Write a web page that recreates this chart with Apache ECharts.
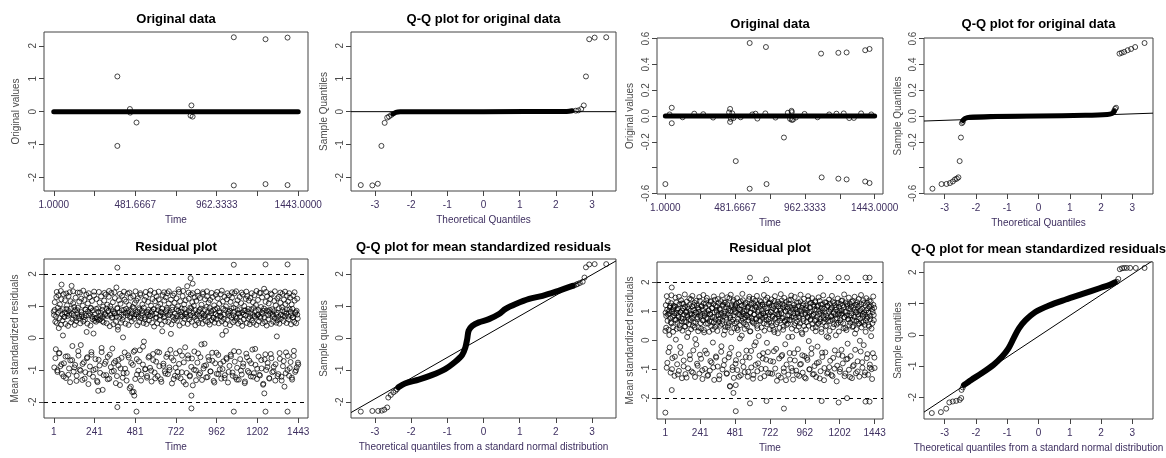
<!DOCTYPE html>
<html><head><meta charset="utf-8">
<script src="https://cdn.jsdelivr.net/npm/echarts@6/dist/echarts.min.js"></script>
<style>html,body{margin:0;padding:0;background:#fff}#c{width:1166px;height:458px}</style>
</head><body><div id="c"></div>
<script>
// ---------- tick values / labels ----------
const timeTicksTop = [1, 241.3333, 481.6667, 722, 962.3333, 1202.6667, 1443];
const timeLabelsTop = [1, 481.6667, 962.3333, 1443];
const timeTicksBottom = [1, 241, 481, 722, 962, 1202, 1443];
const qqTicks = [-3, -2, -1, 0, 1, 2, 3];
const yTicksWide = [-2, -1, 0, 1, 2];
const yTicksNarrow = [-0.6, -0.4, -0.2, 0, 0.2, 0.4, 0.6];
const yLabelsNarrow = [-0.6, -0.2, 0, 0.2, 0.4, 0.6];
const titles = ["Original data", "Q-Q plot for original data", "Original data", "Q-Q plot for original data",
  "Residual plot", "Q-Q plot for mean standardized residuals", "Residual plot", "Q-Q plot for mean standardized residuals"];

// ---------- panel 1: original data (set A) ----------
const origA_bulk = [[1, 0], [1443, 0]];
const origA_points = [[376, 1.07], [376, -1.04], [450, 0.08], [452, -0.03], [489, -0.33], [813, 0.19], [808, -0.12],
  [820, -0.15], [1063, 2.26], [1063, -2.24], [1250, 2.2], [1250, -2.2], [1380, 2.25], [1380, -2.23]];
// ---------- panel 2: QQ original (set A) ----------
const qqA_line = [[-3.66, 0], [3.66, 0]];
const qqA_bulk = [[-2.5, -0.07], [-2.42, -0.02], [-2.3, -0.005], [0, 0], [2.3, 0.008], [2.45, 0.03]];
const qqA_points = [[-3.39, -2.23], [-3.07, -2.24], [-2.92, -2.19], [-2.82, -1.04], [-2.73, -0.34], [-2.66, -0.18],
  [-2.61, -0.15], [-2.55, -0.1], [2.55, 0.03], [2.62, 0.04], [2.7, 0.08], [2.77, 0.19], [2.83, 1.07], [2.92, 2.2],
  [3.07, 2.25], [3.39, 2.26]];
// ---------- panel 3: original data (set B) ----------
const origB_bulk = [[1, 0], [1443, 0]];
const origB_nearZero = [[30, 0.012], [120, -0.01], [200, 0.018], [262, 0.014], [330, -0.012], [440, 0.028], [452, -0.022],
  [462, 0.02], [470, -0.016], [520, -0.01], [600, 0.012], [622, 0.018], [635, -0.02], [690, 0.02], [760, -0.012],
  [845, 0.025], [860, -0.022], [872, 0.03], [880, -0.028], [900, -0.012], [960, 0.016], [1050, -0.01], [1130, 0.012],
  [1180, 0.018], [1230, 0.02], [1268, -0.016], [1300, -0.015], [1350, 0.02], [1420, 0.012]];
const origB_points = [[1, -0.528], [45, 0.064], [45, -0.056], [447, 0.055], [447, -0.046], [486, -0.35], [582, 0.566],
  [582, -0.564], [694, 0.535], [698, -0.528], [818, -0.167], [870, 0.04], [872, -0.03], [1074, 0.484], [1078, -0.476],
  [1193, 0.49], [1193, -0.486], [1250, 0.493], [1250, -0.492], [1378, 0.51], [1378, -0.508], [1408, 0.52], [1408, -0.52]];
// ---------- panel 4: QQ original (set B) ----------
const qqB_line = [[-3.66, -0.039], [3.66, 0.022]];
const qqB_bulk = [[-2.42, -0.035], [-2.35, -0.02], [-2.2, -0.01], [-1.5, -0.004], [0, 0], [1.5, 0.005], [2.2, 0.012],
  [2.35, 0.02], [2.42, 0.035]];
const qqB_points = [[-3.39, -0.564], [-3.1, -0.528], [-2.94, -0.527], [-2.83, -0.52], [-2.74, -0.508], [-2.67, -0.492],
  [-2.61, -0.486], [-2.56, -0.476], [-2.52, -0.35], [-2.48, -0.167], [-2.45, -0.056], [-2.42, -0.046], [2.42, 0.04],
  [2.45, 0.055], [2.48, 0.064], [2.59, 0.484], [2.66, 0.49], [2.74, 0.497], [2.85, 0.51], [2.96, 0.52], [3.09, 0.535],
  [3.39, 0.566]];

// ---------- panel 5: residuals (set A), observations sampled evenly over time 1..1443 ----------
const residA = [
 0.83,-0.92,1.12,0.51,-0.35,1.28,0.47,-1.01,0.95,1.34,-0.48,0.62,1.05,-0.88,0.42,1.21,-1.12,0.55,0.08,1.37,
 -0.79,0.66,1.18,0.44,-1.25,0.91,1.02,-0.57,0.38,1.31,-0.95,0.73,-1.38,1.15,0.49,1.63,-0.69,0.58,1.09,-1.05,
 0.97,0.41,-0.84,1.26,0.53,-1.18,0.87,1.42,-0.41,0.61,1.14,-0.99,0.46,-0.22,1.23,0.68,-1.31,1.01,0.52,-0.76,
 1.19,0.57,-1.07,0.89,1.35,-0.63,0.45,1.08,-1.44,0.71,1.27,-0.89,0.39,0.94,-0.52,1.16,0.59,-1.21,0.14,1.33,
 0.54,0.62,-0.97,0.51,1.22,-1.34,0.58,0.93,-0.68,0.56,1.11,-1.09,0.6,1.3,-0.44,0.53,-1.62,0.98,0.49,1.17,
 -0.81,0.72,1.36,-1.16,0.46,1.04,-0.59,0.84,1.29,-1.27,0.37,0.99,-0.91,1.41,0.63,-0.33,1.12,0.43,-1.03,0.77,
 1.25,-0.72,0.51,1.58,-1.19,0.92,0.35,-0.86,1.18,0.66,-1.47,1.07,0.48,-0.62,1.32,0.57,0.02,-1.1,0.88,1.2,
 -0.96,0.45,1.14,-1.33,0.79,1.39,-0.54,0.41,1.03,-1.57,0.68,1.26,-0.78,0.52,-1.69,0.97,1.31,-0.43,0.6,1.09,
 -1.28,0.74,1.17,-0.66,0.4,1.24,-1.02,0.93,0.5,-0.38,1.35,0.62,-1.14,0.86,1.05,-0.83,0.47,-0.11,1.19,0.58,
 -0.97,1.29,0.44,-1.24,0.82,1.13,-0.61,0.55,1.37,-0.93,0.69,1.01,-1.36,0.48,1.22,-0.5,0.9,0.36,-1.08,1.15,
 0.63,-0.74,1.3,0.46,-1.19,0.98,1.21,-0.45,0.57,1.06,-1.29,0.81,0.42,0.21,1.34,-0.87,0.65,1.17,-1.04,0.52,
 1.27,-0.59,0.89,1.4,-1.13,0.5,1.08,-0.92,0.73,-0.37,1.2,0.43,-1.42,0.96,1.33,-0.7,0.56,1.1,-1.18,0.61,
 -0.48,1.24,0.54,-1.06,0.99,1.52,-0.81,0.39,1.15,-1.26,0.67,0.92,-0.55,1.31,0.47,-1.37,1.05,0.6,-0.29,1.18,
 0.75,-1.09,1.62,0.44,-0.64,1.23,0.58,-1.2,0.95,1.36,-0.9,0.51,1.12,-1.48,0.7,1.01,-0.42,1.27,0.4,-1.01,
 1.16,0.55,-0.77,1.32,0.47,-1.15,0.88,1.25,-0.6,0.62,1.04,-1.31,0.45,1.38,-0.95,0.71,-0.18,1.21,0.53,-0.85,
 0.97,1.3,-1.22,0.5,1.11,-0.69,0.42,1.19,-1.05,0.84,0.56,-0.46,1.28,0.64,-1.34,1.02,0.48,-0.79,1.35,0.59,
 -1.12,0.93,1.24,-0.53,0.46,1.07,-0.98,0.69,1.37,-1.27,0.52,0.1,1.14,-0.73,0.6,1.29,-1.16,0.44,0.99,-0.62,
 1.21,0.57,-1.39,0.82,1.33,-0.87,0.4,1.13,-0.57,0.65,1.26,-1.08,0.49,0.94,-0.41,1.4,0.54,-1.23,1.06,0.62,
 -0.93,1.18,0.45,-1.3,0.77,1.28,-0.66,0.51,1.09,-1.14,0.38,1.36,-0.8,0.58,1.0,-1.41,0.86,1.22,-0.49,0.47,
 1.31,-1.03,0.6,1.17,-0.71,0.43,1.25,-1.2,0.9,0.55,-0.36,1.12,0.48,-1.1,1.34,0.66,-0.84,1.03,0.41,-1.28,
 0.71,1.19,-0.58,0.52,1.41,-1.17,0.63,0.97,-0.95,1.27,0.46,-1.46,0.85,1.54,-0.67,0.5,1.13,-1.0,0.39,1.3,
 -0.78,0.59,1.08,-1.25,0.88,1.22,-0.5,0.44,1.36,-1.07,0.73,0.51,-0.9,1.16,0.62,-1.33,1.02,0.48,0.05,1.24,
 0.56,-1.13,1.29,0.45,-0.65,1.1,0.6,-1.21,0.96,1.38,-0.88,0.53,1.2,-1.52,0.69,1.06,-0.45,0.47,1.32,-1.0,
 1.14,0.58,-1.18,0.9,1.26,-0.75,0.43,1.05,-1.3,0.64,1.33,-0.56,0.5,1.17,-1.06,0.81,0.46,-0.92,1.23,0.61,
 -0.83];
// further observations of set A (interleaved in time)
const residA2 = [
 0.72,0.88,-0.63,0.67,1.44,-1.06,0.79,0.31,-0.47,0.85,1.47,-0.82,0.74,0.9,-1.2,0.66,0.8,-0.58,1.39,0.77,
 0.69,-1.15,0.84,1.43,-0.7,0.92,0.76,-0.25,1.46,0.71,-0.92,0.87,0.63,-1.34,0.78,0.95,-0.55,0.68,1.42,-1.02,
 0.81,0.73,-0.81,1.48,0.65,-1.27,0.89,0.7,0.19,-0.6,0.83,1.4,-1.12,0.76,0.93,-0.44,0.67,0.86,-1.0,1.45,
 0.74,-0.66,0.91,0.64,-1.38,0.82,1.44,-0.86,0.7,0.79,-0.31,0.88,0.66,-1.16,1.41,0.75,-0.74,0.92,0.69,-1.29,
 0.85,1.47,-0.52,0.72,0.9,-1.05,0.65,0.83,-0.78,1.43,0.77,-1.41,0.68,0.94,0.26,-0.68,0.8,1.38,-0.95,0.73,
 0.87,-1.24,0.66,1.45,-0.45,0.79,0.91,-1.09,0.71,0.84,-0.61,1.42,0.64,-1.52,0.86,0.76,-0.84,0.93,0.69,-0.39,
 1.46,0.74,-1.14,0.82,0.67,-0.73,0.89,1.4,-1.33,0.7,0.78,-0.27,0.95,0.65,-0.98,1.44,0.8,-1.19,0.73,0.88,
 -0.57,0.68,1.48,-1.02,0.83,0.72,-0.69,0.9,1.41,-1.26,0.76,0.64,-0.43,0.87,1.45,-0.88,0.7,0.81,-1.37,0.92,
 0.75,-0.8,1.43,0.67,-1.11,0.84,0.94,-0.5,0.71,1.46,-1.0,0.79,0.13,-0.62,0.88,0.66,-1.28,1.39,0.77,-0.93,
 0.9,0.69,-1.21,0.85,1.44,-0.41,0.73,0.82,-1.07,0.68,1.47,-0.76,0.91,0.75,-1.45,0.8,0.67,-0.54,1.42,0.86,
 -1.17,0.71,0.93,-0.64,1.4,0.78,-0.99,0.66,0.87,-1.32,0.74,1.45,-0.48,0.83,0.69,-1.1,0.92,-0.2,0.76,1.43,
 0.65,-0.87,0.89,0.72,-1.23,1.46,0.8,-0.59,0.68,0.94,-1.04,0.77,1.41,-0.71,0.86,0.63,-1.39,0.9,0.74,-0.46,
 1.44,0.7,-1.13,0.84,0.79,-0.8,0.67,1.48,-0.97,0.92,0.73,-1.25,0.88,0.22,-0.66,1.4,0.76,-1.06,0.69,0.85,
 -0.52,0.93,1.43,-1.18,0.71,0.82,-0.74,0.65,1.46,-1.3,0.87,0.77,-0.43,0.9,0.68,-1.02,1.42,0.8,-0.89,0.74,
 0.86,-1.36,0.7,1.45,-0.6,0.83,0.91,-1.08,0.66,0.78,-0.79,1.4,0.72,-1.21,0.94,0.69,-0.34,0.85,1.47,-0.96,
 0.73,0.88,-1.15,0.67,1.41,-0.69,0.8,0.75,-1.43,0.92,0.64,-0.51,1.44,0.86,-0.91,0.71,0.83,-1.27,0.77,1.39,
 -0.63,0.9,0.68,-1.04,0.84,1.46,-0.82,0.74,0.79,-1.19,0.66,0.93,-0.47,1.42,0.72,-1.33,0.87,0.7,-0.72,0.81,
 1.45,-1.1,0.76,0.89,-0.56,0.67,1.4,-0.94,0.82,0.71,-1.24,0.91,0.65,-0.4,1.43,0.78,-1.01,0.85,0.73,-0.77];
const residA_extra = [[47, 1.67], [263, -1.65], [376, 2.2], [376, -2.16], [472, -1.68], [476, -1.8], [489, -2.3],
  [808, 1.87], [820, 1.7], [813, -1.8], [813, -2.2], [1063, 2.29], [1063, -2.3], [1243, -1.73], [1250, 2.3],
  [1250, -2.3], [1380, 2.3], [1380, -2.3]];
// ---------- panel 6: QQ residuals (set A) ----------
const qqRA_line = [[-3.66, -2.33], [3.66, 2.41]];
const qqRA_bulk = [[-2.35, -1.54], [-2.17, -1.42], [-1.79, -1.3], [-1.43, -1.16], [-1.06, -0.97], [-0.78, -0.74],
  [-0.59, -0.53], [-0.5, -0.29], [-0.45, -0.03], [-0.41, 0.23], [-0.31, 0.38], [-0.13, 0.49], [0.15, 0.59],
  [0.43, 0.75], [0.61, 0.91], [0.89, 1.06], [1.26, 1.22], [1.63, 1.32], [2.0, 1.45], [2.28, 1.56], [2.46, 1.63]];
const qqRA_points = [[-3.39, -2.3], [-3.07, -2.28], [-2.91, -2.28], [-2.81, -2.27], [-2.74, -2.24], [-2.66, -2.17],
  [-2.63, -1.86], [-2.56, -1.78], [-2.49, -1.7], [-2.43, -1.65], [-2.39, -1.6], [2.5, 1.64], [2.56, 1.67], [2.6, 1.69],
  [2.66, 1.72], [2.74, 1.76], [2.79, 1.89], [2.83, 2.21], [2.92, 2.3], [3.07, 2.31], [3.39, 2.31]];

// ---------- panel 7: residuals (set B) ----------
const residB = [
 0.32,1.21,0.84,-0.95,1.05,0.67,1.34,-0.41,0.92,0.18,1.13,0.76,-1.12,1.28,0.58,0.99,-0.62,1.07,0.45,1.19,
 0.86,-1.23,1.16,0.71,0.02,1.31,0.94,-0.83,0.6,1.1,0.79,-1.06,1.24,0.52,-0.23,0.97,1.38,0.65,-1.31,1.02,
 0.74,1.26,-0.7,0.88,0.47,1.15,-1.17,0.96,0.63,1.33,0.11,0.81,-0.97,1.09,0.55,1.22,-0.52,0.9,0.69,1.41,
 -1.08,0.78,1.17,0.5,-0.35,1.03,0.87,1.29,-1.27,0.62,0.95,-0.15,1.2,0.73,-0.88,1.12,0.44,0.98,-1.15,1.36,
 0.82,0.59,-0.64,1.18,0.91,-1.34,1.06,0.68,1.27,0.27,0.85,-0.99,1.14,0.57,1.37,-0.46,0.93,0.76,-1.2,1.01,
 1.23,0.66,-1.05,0.89,1.32,0.48,-0.77,1.11,0.8,-0.08,1.25,0.61,-1.37,0.96,1.4,0.72,-0.56,1.04,0.53,1.17,
 -0.91,0.87,1.28,0.63,-1.22,1.08,0.75,1.35,-0.4,0.94,0.56,-1.01,1.19,0.83,0.19,1.3,-0.69,0.99,0.46,1.13,
 0.7,-1.14,1.24,0.9,0.51,-0.59,1.1,1.45,-1.58,0.78,1.02,-0.26,1.21,0.64,-0.93,1.34,0.86,-1.3,1.07,0.58,
 1.16,-0.81,0.95,1.26,0.42,-1.03,1.12,0.73,-0.49,1.31,0.88,0.06,1.05,-1.21,0.67,1.2,0.97,-0.74,1.38,0.6,
 0.91,1.18,-1.1,0.79,1.29,0.54,-0.36,1.03,0.84,-1.26,1.15,0.69,1.42,-0.6,0.95,0.31,1.22,-0.94,0.76,1.09,
 0.62,-1.33,1.27,0.88,-0.18,1.06,1.36,-0.85,0.72,1.14,0.5,-1.07,0.98,1.25,0.14,0.83,-0.53,1.19,0.66,1.32,
 -0.99,1.01,0.77,1.23,-0.45,0.92,0.58,-1.24,1.16,0.85,1.39,-0.67,0.7,-0.09,1.11,0.96,-1.13,1.28,0.63,0.89,
 1.3,-0.72,0.97,0.6,1.2,-1.16,0.81,1.1,0.36,-0.38,1.35,0.74,-0.98,1.04,0.55,1.24,-1.4,0.9,0.24,1.17,
 0.82,-0.63,1.27,0.68,1.02,-1.29,0.93,1.37,-0.51,0.77,1.13,0.47,-1.09,1.21,0.64,-0.14,0.99,1.32,-0.84,0.71,
 1.08,0.57,-1.19,1.26,0.86,-0.44,1.15,0.69,1.4,-0.96,0.8,0.12,1.05,-1.36,0.92,1.22,0.52,-0.7,1.11,0.78,
 -1.05,1.3,0.65,0.97,-0.31,1.18,0.83,-1.23,1.02,0.58,1.34,-0.82,0.9,1.12,0.21,-1.12,0.74,1.25,0.49,-0.55,
 1.07,0.88,-1.32,1.2,0.62,1.01,-0.68,0.79,1.39,-0.03,0.95,-1.0,1.14,0.7,1.29,-0.47,0.84,0.56,-1.18,1.23,
 0.9,1.16,-0.89,0.67,1.31,0.45,-1.27,1.06,0.81,-0.22,1.19,0.6,-0.76,1.0,1.36,0.73,-1.07,0.94,0.28,1.12,
 -0.58,1.24,0.85,0.63,-1.38,1.09,0.96,-0.42,0.72,1.3,0.5,-1.15,1.18,0.78,0.09,0.99,-0.93,1.26,0.66,1.04,
 0.83,-1.2,1.13,0.71,1.33,-0.61,0.92,0.55,-0.98,1.21,0.87,0.17,1.06,-1.42,0.76,1.28,0.6,-0.5,1.15,0.94,
 -1.09,0.69,1.25,0.88,-0.33,1.02,1.37,-0.8,0.58,1.14,0.79,-1.24,0.97,0.42,1.3,-0.66,0.86,1.19,-0.12,0.73,
 1.1,-1.02,0.84,1.27,0.61,-0.55,1.16,0.93,-1.31,0.7,1.35,0.48,-0.86,1.04,0.8,0.23,1.22,-1.14,0.65,0.98,
 1.31,-0.73,0.89,0.57,1.18,-1.26,1.0,0.75,-0.39,1.24,0.62,1.08,-0.95,0.84,1.38,-0.17,0.96,0.53,-1.11,1.2,
 0.68,1.03,-0.62,1.29,0.8,-1.19,0.95,0.47,1.15,-0.84,0.72,1.33,0.14,-1.0,1.07,0.59,-0.45,1.22,0.87,1.12,
 -0.96];
// further observations of set B (interleaved in time)
const residB2 = [
 0.95,0.43,1.52,-0.78,0.88,0.36,1.01,-0.25,1.18,0.62,1.55,-1.0,0.81,0.29,1.12,0.93,-0.57,1.47,0.7,0.39,
 1.05,-1.18,0.84,1.5,0.41,0.97,-0.44,0.76,1.27,0.33,1.09,-0.9,0.65,1.58,0.47,0.99,-1.29,0.86,1.15,0.26,
 0.73,1.44,-0.66,1.02,0.38,0.9,1.53,-1.12,0.61,1.21,0.44,0.04,0.96,1.36,-0.81,0.79,0.31,1.08,1.49,-0.5,
 0.87,0.4,1.16,-1.04,0.68,1.56,0.35,0.94,-0.36,1.26,0.75,1.46,-1.23,0.57,1.04,0.29,0.91,-0.72,1.35,0.64,
 1.11,0.37,-0.94,1.51,0.8,0.46,1.19,-0.6,0.98,0.32,1.42,0.72,-1.35,1.06,0.5,0.88,-0.21,1.55,0.67,1.23,
 -0.86,0.92,0.34,1.3,0.78,-1.16,1.48,0.45,1.03,0.6,-0.47,0.85,1.57,0.27,1.14,-1.03,0.71,1.39,0.42,0.97,
 1.2,-0.69,0.63,1.45,0.35,0.9,-1.26,1.07,0.52,1.34,0.83,0.16,1.6,0.74,-0.92,1.0,0.39,1.24,-0.58,0.86,
 0.48,1.13,-1.09,0.79,1.5,0.3,0.96,-0.37,1.28,0.66,1.43,-1.2,0.58,0.89,1.17,-0.07,0.76,1.53,0.41,-0.8,
 1.04,0.69,1.37,-1.31,0.87,0.44,1.22,-0.63,0.93,1.56,0.33,0.8,-0.99,1.1,0.55,1.47,-0.41,0.72,1.26,0.38,
 -1.14,0.98,1.41,0.49,0.84,-0.74,1.18,0.28,1.52,0.77,-0.3,1.01,0.62,1.33,-1.22,0.9,0.43,1.08,1.59,-0.55,
 0.75,1.25,0.36,-0.97,1.46,0.68,1.02,-1.38,0.53,1.15,0.86,0.11,1.38,0.7,-0.67,0.95,1.54,0.4,-1.06,1.12,
 0.83,-0.45,1.49,0.59,1.06,0.34,-1.19,0.92,1.3,0.47,0.78,-0.84,1.57,1.0,0.26,-0.52,1.2,0.66,1.43,-1.28,
 0.94,0.37,1.11,-0.61,0.81,1.52,0.5,-1.01,1.27,0.73,0.99,-0.28,1.45,0.42,0.87,-1.17,1.05,1.35,0.31,0.7,
 -0.79,1.16,0.56,1.48,0.9,-1.32,0.64,1.23,0.39,-0.43,1.03,1.55,0.76,-0.96,1.31,0.48,0.85,0.13,1.19,-1.11,
 0.67,1.4,0.32,-0.71,1.08,0.82,1.53,-1.24,0.45,0.97,1.29,-0.35,0.74,1.14,0.54,-0.88,1.44,0.89,0.3,1.02,
 -1.0,0.61,1.36,0.93,-0.54,1.21,0.41,1.58,0.79,-1.15,0.99,0.35,1.25,-0.64,0.72,1.47,0.51,-1.27,1.07,0.86,
 1.32,0.46,-0.9,1.13,0.68,1.5,-0.33,0.96,0.38,1.22,-1.08,0.8,1.42,0.57,-0.02,1.04,1.56,0.44,-0.76,0.91,
 0.63,1.28,-1.21,0.88,0.29,1.45,0.75,-0.48,1.1,0.52,1.37,-0.95,0.84,1.17,0.4,-1.34,0.97,1.51,0.69,-0.6];
const residB_extra = [[1, -2.5], [45, 1.82], [45, -1.72], [447, -1.6], [470, -1.82], [486, -2.45], [486, -1.55],
  [584, 2.16], [584, -2.18], [697, 2.1], [698, -2.1], [818, -2.36], [1070, 2.16], [1078, -2.1], [1195, 2.16],
  [1195, -2.15], [1253, 2.16], [1253, -2.0], [1380, 2.16], [1408, 2.16], [1380, -2.12], [1408, -2.12]];
// ---------- panel 8: QQ residuals (set B) ----------
const qqRB_line = [[-3.66, -2.47], [3.66, 2.38]];
const qqRB_bulk = [[-2.38, -1.6], [-2.15, -1.44], [-1.82, -1.23], [-1.44, -0.96], [-1.17, -0.7], [-0.96, -0.43],
  [-0.8, -0.12], [-0.63, 0.2], [-0.42, 0.46], [-0.1, 0.73], [0.34, 0.94], [0.87, 1.13], [1.41, 1.31], [1.95, 1.49],
  [2.28, 1.6], [2.44, 1.68]];
const qqRB_points = [[-3.41, -2.5], [-3.12, -2.47], [-2.95, -2.36], [-2.85, -2.16], [-2.74, -2.13], [-2.63, -2.11],
  [-2.52, -2.08], [-2.47, -2.02], [-2.46, -1.76], [-2.42, -1.68], [2.5, 1.7], [2.55, 1.79], [2.6, 2.1], [2.67, 2.13],
  [2.74, 2.14], [2.82, 2.14], [2.93, 2.14], [3.11, 2.14], [3.39, 2.14]];

// ---------- layout ----------
const FONT = '"Liberation Sans", Arial, sans-serif';
const XCOL = '#3e2f60', YCOL = '#4a4a4a', BOX = '#444';
const grids = [
  {left: 44, top: 32, width: 264, height: 159},
  {left: 351, top: 32, width: 265, height: 159},
  {left: 657, top: 38, width: 226, height: 156},
  {left: 924, top: 38, width: 229, height: 156},
  {left: 44, top: 259, width: 264, height: 159},
  {left: 351, top: 259, width: 265, height: 159},
  {left: 657, top: 262, width: 226, height: 157},
  {left: 924, top: 262, width: 229, height: 157}
];
const titleY = [19, 19, 24.5, 24.5, 247, 247, 248.5, 249];

function xAx(gi, min, max, ticks, labels, fmt, name) {
  return {type: 'value', gridIndex: gi, min, max,
    axisLine: {show: false, onZero: false}, splitLine: {show: false},
    axisTick: {show: true, length: 5, customValues: ticks, lineStyle: {color: BOX, width: 1}},
    axisLabel: {customValues: labels, formatter: fmt, color: XCOL, fontSize: 10, fontFamily: FONT, margin: 9},
    name, nameLocation: 'middle', nameGap: 24,
    nameTextStyle: {color: XCOL, fontSize: 10, fontFamily: FONT}};
}
function yAx(gi, min, max, ticks, labels, fmt, name, gap) {
  return {type: 'value', gridIndex: gi, min, max,
    axisLine: {show: false, onZero: false}, splitLine: {show: false},
    axisTick: {show: true, length: 5, customValues: ticks, lineStyle: {color: BOX, width: 1}},
    axisLabel: {customValues: labels, formatter: fmt, rotate: 90, color: YCOL, fontSize: 10, fontFamily: FONT, margin: 6},
    name, nameLocation: 'middle', nameGap: gap,
    nameTextStyle: {color: YCOL, fontSize: 10, fontFamily: FONT}};
}
const f4 = v => Number(v).toFixed(4);
const f1 = v => Number(v).toFixed(1);
const f0 = v => String(Math.round(v));
const TMIN = -56.68, TMAX = 1500.68, QMIN = -3.66, QMAX = 3.66;

const xAxes = [
  xAx(0, TMIN, TMAX, timeTicksTop, timeLabelsTop, f4, 'Time'),
  xAx(1, QMIN, QMAX, qqTicks, qqTicks, f0, 'Theoretical Quantiles'),
  xAx(2, TMIN, TMAX, timeTicksTop, timeLabelsTop, f4, 'Time'),
  xAx(3, QMIN, QMAX, qqTicks, qqTicks, f0, 'Theoretical Quantiles'),
  xAx(4, TMIN, TMAX, timeTicksBottom, timeTicksBottom, f0, 'Time'),
  xAx(5, QMIN, QMAX, qqTicks, qqTicks, f0, 'Theoretical quantiles from a standard normal distribution'),
  xAx(6, TMIN, TMAX, timeTicksBottom, timeTicksBottom, f0, 'Time'),
  xAx(7, QMIN, QMAX, qqTicks, qqTicks, f0, 'Theoretical quantiles from a standard normal distribution')
];
const yAxes = [
  yAx(0, -2.41, 2.42, yTicksWide, yTicksWide, f0, 'Original values', 23),
  yAx(1, -2.41, 2.42, yTicksWide, yTicksWide, f0, 'Sample Quantiles', 22),
  yAx(2, -0.605, 0.605, yTicksNarrow, yLabelsNarrow, f1, 'Original values', 22),
  yAx(3, -0.605, 0.605, yTicksNarrow, yLabelsNarrow, f1, 'Sample Quantiles', 21),
  yAx(4, -2.5, 2.47, yTicksWide, yTicksWide, f0, 'Mean standardized residuals', 24),
  yAx(5, -2.5, 2.47, yTicksWide, yTicksWide, f0, 'Sample quantiles', 22),
  yAx(6, -2.72, 2.7, yTicksWide, yTicksWide, f0, 'Mean standardized residuals', 22),
  yAx(7, -2.69, 2.33, yTicksWide, yTicksWide, f0, 'Sample quantiles', 21)
];

const ring = {color: 'rgba(0,0,0,0)', borderColor: '#000', borderWidth: 0.9};
function pts(gi, data, extra) {
  return Object.assign({type: 'scatter', xAxisIndex: gi, yAxisIndex: gi, data, symbol: 'circle', symbolSize: 5,
    itemStyle: ring, silent: true, clip: true}, extra || {});
}
function band(gi, data, w) {
  return {type: 'line', xAxisIndex: gi, yAxisIndex: gi, data, symbol: 'none', smooth: 0.3, silent: true, clip: true,
    lineStyle: {color: '#000', width: w, cap: 'round', join: 'round'}};
}
function ref(gi, data) {
  return {type: 'line', xAxisIndex: gi, yAxisIndex: gi, data, symbol: 'none', silent: true, clip: true,
    lineStyle: {color: '#000', width: 1}};
}
const dashes = {silent: true, symbol: ['none', 'none'], label: {show: false},
  lineStyle: {color: '#000', width: 1, type: [4, 4]}, data: [{yAxis: 2}, {yAxis: -2}]};
// observation index -> time position (evenly spread over 1..1443)
const toSeries = (arr, t0, t1) => arr.map((v, i) => [t0 + i * (t1 - t0) / (arr.length - 1), v]);

const series = [
  band(0, origA_bulk, 5), pts(0, origA_points),
  ref(1, qqA_line), band(1, qqA_bulk, 5), pts(1, qqA_points),
  band(2, origB_bulk, 5), pts(2, origB_nearZero), pts(2, origB_points),
  ref(3, qqB_line), band(3, qqB_bulk, 5), pts(3, qqB_points),
  pts(4, toSeries(residA, 1, 1443), {markLine: dashes}), pts(4, toSeries(residA2, 2.5, 1441.5)), pts(4, residA_extra),
  ref(5, qqRA_line), band(5, qqRA_bulk, 6), pts(5, qqRA_points),
  pts(6, toSeries(residB, 1, 1443), {markLine: dashes}), pts(6, toSeries(residB2, 2.5, 1441.5)), pts(6, residB_extra),
  ref(7, qqRB_line), band(7, qqRB_bulk, 6), pts(7, qqRB_points)
];

const graphic = titles.map((t, i) => ({
  type: 'text', x: grids[i].left + grids[i].width / 2, y: titleY[i], silent: true,
  style: {text: t, font: 'bold 13px ' + FONT, fill: '#000', align: 'center', verticalAlign: 'middle'}
}));

const chart = echarts.init(document.getElementById('c'), null, {renderer: 'canvas'});
chart.setOption({
  animation: false,
  backgroundColor: '#fff',
  grid: grids.map(g => Object.assign({show: true, borderColor: BOX, borderWidth: 1, backgroundColor: 'rgba(0,0,0,0)', containLabel: false}, g)),
  xAxis: xAxes, yAxis: yAxes, series, graphic
});
</script></body></html>
